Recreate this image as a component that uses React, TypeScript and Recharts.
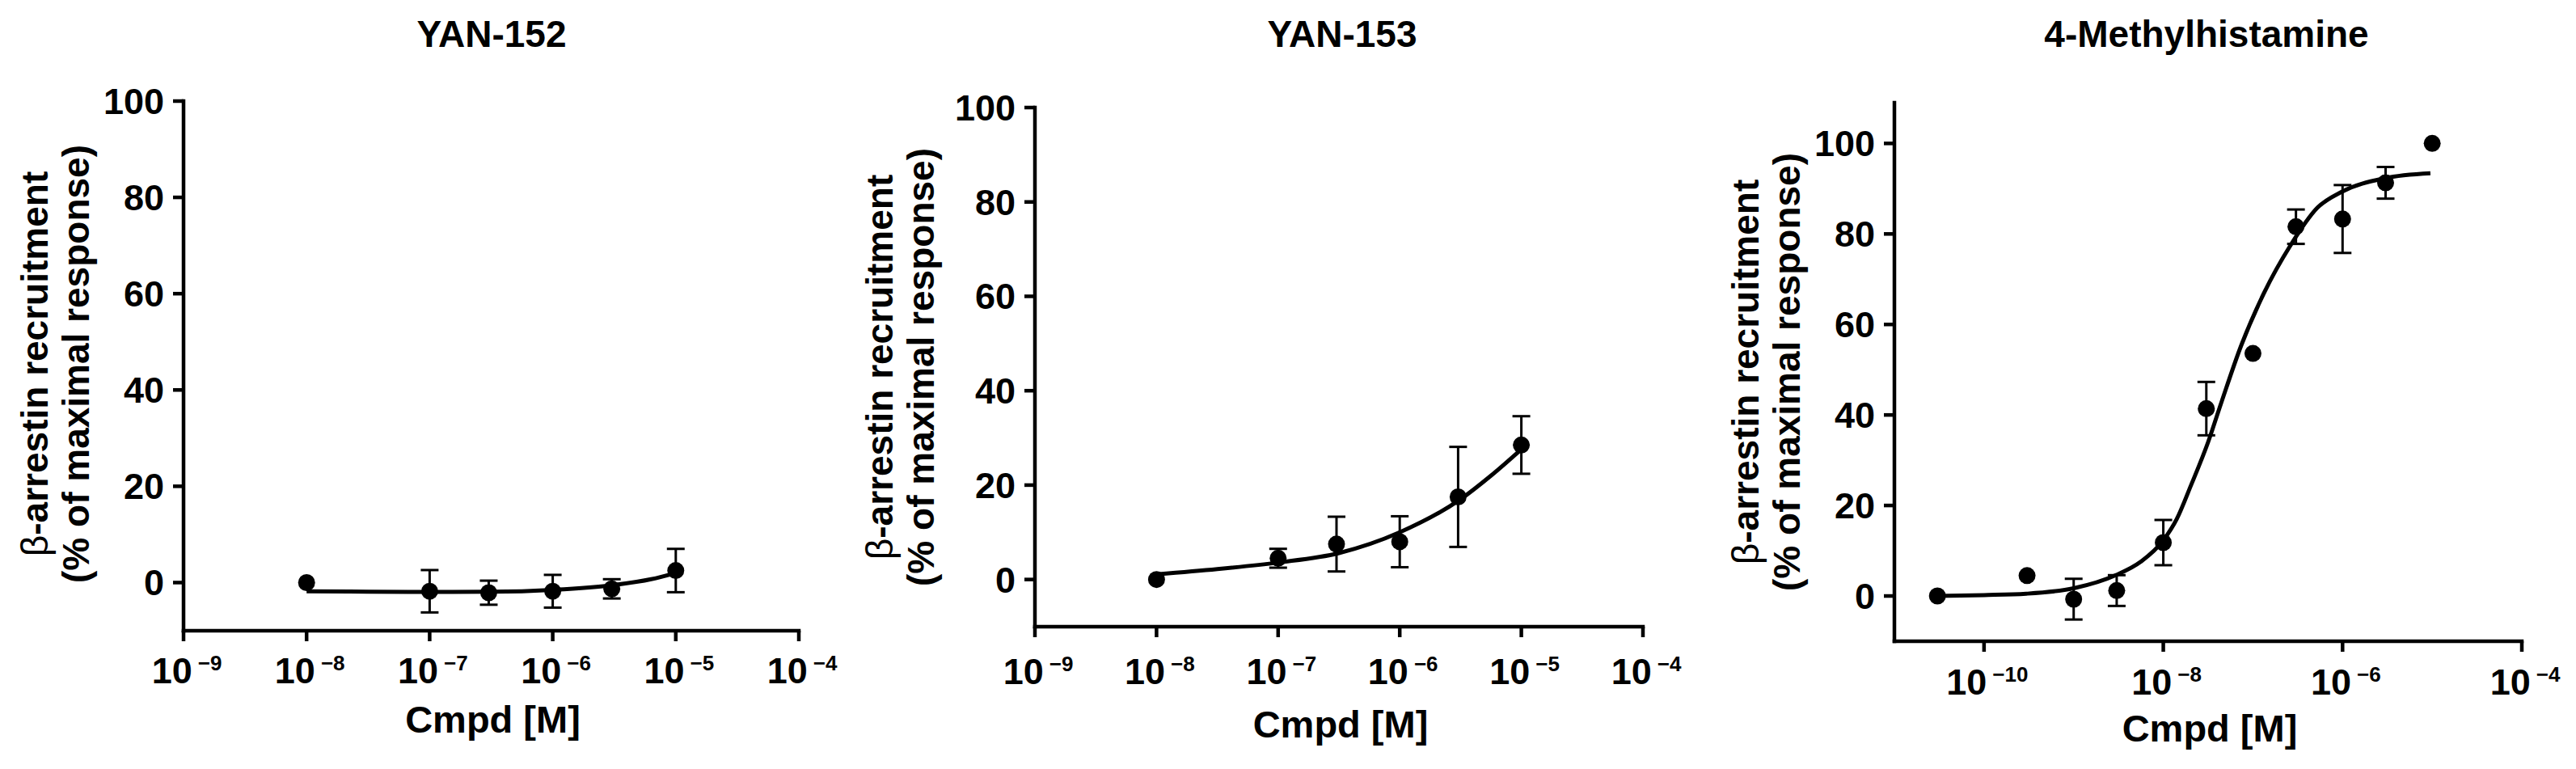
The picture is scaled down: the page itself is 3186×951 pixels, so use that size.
import React from 'react';
import { ComposedChart, Line, Scatter, XAxis, YAxis, ErrorBar } from 'recharts';

const FONT = '"Liberation Sans", Arial, Helvetica, sans-serif';

// ---- text ----
const titles = ['YAN-152', 'YAN-153', '4-Methylhistamine'];
const yLabelGreek = 'β';
const yLabelRest = '-arrestin recruitment';
const yLabelLine2 = '(% of maximal response)';
const xLabel = 'Cmpd [M]';

// ---- ticks (log10 of concentration for x) ----
const yTicks = [0, 20, 40, 60, 80, 100];
const xTicksYan = [-9, -8, -7, -6, -5, -4];
const xTicksMH = [-10, -8, -6, -4];

// ---- YAN-152 ----
const yan152Points = [
  { x: -8, y: 0, err: 0 },
  { x: -7, y: -1.8, err: 4.4 },
  { x: -6.52, y: -2.1, err: 2.5 },
  { x: -6, y: -1.8, err: 3.4 },
  { x: -5.52, y: -1.3, err: 2.0 },
  { x: -5, y: 2.5, err: 4.5 },
];
const yan152Curve = [
  { x: -8, y: -1.8 },
  { x: -7.5, y: -1.9 },
  { x: -7, y: -1.95 },
  { x: -6.5, y: -1.9 },
  { x: -6, y: -1.5 },
  { x: -5.5, y: -0.5 },
  { x: -5.2, y: 0.7 },
  { x: -5, y: 2.0 },
];

// ---- YAN-153 ----
const yan153Points = [
  { x: -8, y: 0, err: 0 },
  { x: -7, y: 4.5, err: 2.0 },
  { x: -6.52, y: 7.5, err: 5.8 },
  { x: -6, y: 8.0, err: 5.4 },
  { x: -5.52, y: 17.5, err: 10.6 },
  { x: -5, y: 28.5, err: 6.1 },
];
const yan153Curve = [
  { x: -8, y: 1.1 },
  { x: -7.5, y: 2.2 },
  { x: -7, y: 3.6 },
  { x: -6.5, y: 5.6 },
  { x: -6, y: 10.0 },
  { x: -5.5, y: 17.0 },
  { x: -5.25, y: 22.0 },
  { x: -5, y: 27.6 },
];

// ---- 4-Methylhistamine ----
const mhPoints = [
  { x: -10.52, y: 0, err: 0 },
  { x: -9.52, y: 4.5, err: 0 },
  { x: -9, y: -0.7, err: 4.5 },
  { x: -8.52, y: 1.2, err: 3.4 },
  { x: -8, y: 11.8, err: 5.0 },
  { x: -7.52, y: 41.4, err: 5.9 },
  { x: -7, y: 53.6, err: 0 },
  { x: -6.52, y: 81.6, err: 3.8 },
  { x: -6, y: 83.3, err: 7.5 },
  { x: -5.52, y: 91.3, err: 3.5 },
  { x: -5, y: 100, err: 0 },
];
const mhCurve = [
  { x: -10.52, y: 0 },
  { x: -10, y: 0.2 },
  { x: -9.53, y: 0.5 },
  { x: -9, y: 1.7 },
  { x: -8.53, y: 4.6 },
  { x: -8.25, y: 7.6 },
  { x: -8, y: 12.3 },
  { x: -7.85, y: 17 },
  { x: -7.69, y: 24.5 },
  { x: -7.5, y: 34 },
  { x: -7.35, y: 42.9 },
  { x: -7.13, y: 55.4 },
  { x: -6.88, y: 66.8 },
  { x: -6.58, y: 77.5 },
  { x: -6.28, y: 85.8 },
  { x: -6.01, y: 89.3 },
  { x: -5.53, y: 92.3 },
  { x: -5.02, y: 93.4 },
];

type PanelProps = {
  left: number;
  width: number;
  margin: { top: number; right: number; bottom: number; left: number };
  xDomain: [number, number];
  xTicks: number[];
  yDomain: [number, number];
  points: { x: number; y: number; err: number }[];
  curve: { x: number; y: number }[];
  title: string;
  titleX: number;
  lab1X: number;
  lab2X: number;
  labCY: number;
  xTickDy: number;
  xLabelY: number;
};

const AXIS_W = 100;
const AXIS_H = 100;
const H = 951;

const Dot = (p: any) => <circle cx={p.cx} cy={p.cy} r={10.5} fill="#000" />;

const Panel = (pp: PanelProps) => {
  const plotLeft = pp.margin.left + AXIS_W;
  const plotRight = pp.width - pp.margin.right;
  const plotCX = (plotLeft + plotRight) / 2;

  const XTick = (props: any) => {
    const { x, y, payload } = props;
    const v = payload.value as number;
    return (
      <text
        x={x + 4}
        y={y + pp.xTickDy}
        textAnchor="middle"
        fontFamily={FONT}
        fontWeight="bold"
        fontSize={45}
        fill="#000"
      >
        <tspan>10</tspan>
        <tspan dx={7} dy={-16} fontSize={26}>
          {'\u2212' + Math.abs(v)}
        </tspan>
      </text>
    );
  };

  const YTick = (props: any) => {
    const { x, y, payload } = props;
    return (
      <text
        x={x - 9}
        y={y + 16}
        textAnchor="end"
        fontFamily={FONT}
        fontWeight="bold"
        fontSize={45}
        fill="#000"
      >
        {payload.value}
      </text>
    );
  };

  const axisStyle = { stroke: '#000', strokeWidth: 4.5, strokeLinecap: 'square' as const };
  const tickStyle = { stroke: '#000', strokeWidth: 4.5 };

  return (
    <div style={{ position: 'absolute', left: pp.left, top: 0, width: pp.width, height: H }}>
      <ComposedChart width={pp.width} height={H} margin={pp.margin}>
        <XAxis
          type="number"
          dataKey="x"
          domain={pp.xDomain}
          ticks={pp.xTicks}
          allowDataOverflow
          height={AXIS_H}
          tickSize={13}
          axisLine={axisStyle}
          tickLine={tickStyle}
          tick={XTick}
          interval={0}
        />
        <YAxis
          type="number"
          dataKey="y"
          domain={pp.yDomain}
          ticks={yTicks}
          allowDataOverflow
          width={AXIS_W}
          tickSize={13}
          axisLine={axisStyle}
          tickLine={tickStyle}
          tick={YTick}
          interval={0}
        />
        <Scatter data={pp.points} dataKey="y" fill="#000" shape={Dot} isAnimationActive={false}>
          <ErrorBar dataKey="err" direction="y" width={11} stroke="#000" strokeWidth={3} />
        </Scatter>
        <Line
          data={pp.curve}
          dataKey="y"
          type="monotone"
          stroke="#000"
          strokeWidth={5}
          dot={false}
          activeDot={false}
          isAnimationActive={false}
        />
        <text
          x={pp.titleX}
          y={58}
          textAnchor="middle"
          fontFamily={FONT}
          fontWeight="bold"
          fontSize={46}
          fill="#000"
        >
          {pp.title}
        </text>
        <text
          x={plotCX + 2}
          y={pp.xLabelY}
          textAnchor="middle"
          fontFamily={FONT}
          fontWeight="bold"
          fontSize={47}
          fill="#000"
        >
          {xLabel}
        </text>
        <text
          x={pp.lab1X}
          y={pp.labCY}
          transform={`rotate(-90, ${pp.lab1X}, ${pp.labCY})`}
          textAnchor="middle"
          fontFamily={FONT}
          fontWeight="bold"
          fontSize={46}
          fill="#000"
        >
          <tspan fontWeight="normal">{yLabelGreek}</tspan>
          <tspan>{yLabelRest}</tspan>
        </text>
        <text
          x={pp.lab2X}
          y={pp.labCY}
          transform={`rotate(-90, ${pp.lab2X}, ${pp.labCY})`}
          textAnchor="middle"
          fontFamily={FONT}
          fontWeight="bold"
          fontSize={46}
          fill="#000"
        >
          {yLabelLine2}
        </text>
      </ComposedChart>
    </div>
  );
}

export default function App() {
  return (
    <div style={{ position: 'absolute', left: 0, top: 0, width: 3186, height: H, background: '#fff' }}>
      <Panel
        left={0}
        width={1060}
        margin={{ top: 125, right: 72, bottom: 71, left: 127 }}
        xDomain={[-9, -4]}
        xTicks={xTicksYan}
        yDomain={[-10, 100]}
        points={yan152Points}
        curve={yan152Curve}
        title={titles[0]}
        titleX={608}
        lab1X={59}
        lab2X={110}
        labCY={450}
        xTickDy={50}
        xLabelY={906}
      />
      <Panel
        left={1060}
        width={1060}
        margin={{ top: 133, right: 88, bottom: 76, left: 120 }}
        xDomain={[-9, -4]}
        xTicks={xTicksYan}
        yDomain={[-10, 100]}
        points={yan153Points}
        curve={yan153Curve}
        title={titles[1]}
        titleX={600}
        lab1X={44}
        lab2X={95}
        labCY={454}
        xTickDy={56}
        xLabelY={912}
      />
      <Panel
        left={2120}
        width={1066}
        margin={{ top: 127, right: 67, bottom: 58, left: 123 }}
        xDomain={[-11, -4]}
        xTicks={xTicksMH}
        yDomain={[-10, 109]}
        points={mhPoints}
        curve={mhCurve}
        title={titles[2]}
        titleX={609}
        lab1X={55}
        lab2X={106}
        labCY={460}
        xTickDy={51}
        xLabelY={917}
      />
    </div>
  );
}
